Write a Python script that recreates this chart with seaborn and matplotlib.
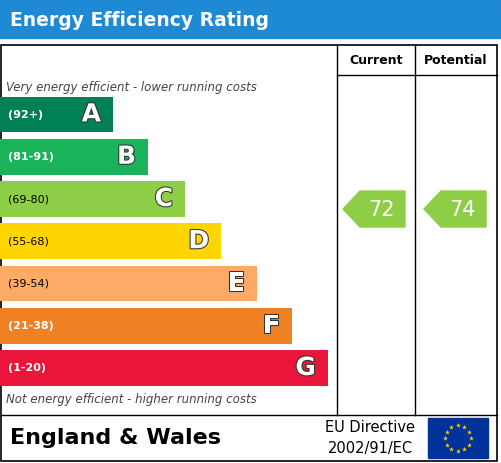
import matplotlib
matplotlib.use("Agg")
import matplotlib.pyplot as plt
import matplotlib.patheffects as pe
import seaborn as sns
import numpy as np
from matplotlib.patches import Rectangle, Polygon

# Data
bands = ["A", "B", "C", "D", "E", "F", "G"]
ranges = ["(92+)", "(81-91)", "(69-80)", "(55-68)", "(39-54)", "(21-38)", "(1-20)"]
bar_lengths = [113, 148, 185, 221, 257, 292, 328]
colors = ["#008054", "#19b459", "#8dce46", "#ffd500", "#fcaa65", "#ef8023", "#e9153b"]
current_score = 72
potential_score = 74
score_band = "C"

W, H = 502, 463
fig = plt.figure(figsize=(W / 100, H / 100), dpi=100)
ax = fig.add_axes([0, 0, 1, 1])
ax.set_xlim(0, W)
ax.set_ylim(H, 0)
ax.axis("off")

# header
ax.add_patch(Rectangle((0, 0), 500, 38, color="#1e8ad6"))
ax.text(10, 20, "Energy Efficiency Rating", color="white", fontsize=13.5,
        fontweight="bold", va="center")

# frame
lc = "black"
ax.add_patch(Rectangle((1, 45), 496, 416, fill=False, ec=lc, lw=1.2))
ax.plot([337, 337], [45, 415], color=lc, lw=1)
ax.plot([415, 415], [45, 415], color=lc, lw=1)
ax.plot([337, 497], [75, 75], color=lc, lw=1)
ax.plot([1, 497], [415, 415], color=lc, lw=1)
ax.text(376, 61, "Current", ha="center", va="center", fontsize=9, fontweight="bold")
ax.text(456, 61, "Potential", ha="center", va="center", fontsize=9, fontweight="bold")
ax.text(6, 88, "Very energy efficient - lower running costs", fontsize=8.5,
        style="italic", color="#444444", va="center")
ax.text(6, 400, "Not energy efficient - higher running costs", fontsize=8.5,
        style="italic", color="#444444", va="center")

# bars
top, pitch = 114.5, 42.25
bx = fig.add_axes([0, 1 - (top + 6.5 * pitch) / H, 337 / W, 7 * pitch / H])
sns.barplot(x=bar_lengths, y=bands, hue=bands, palette=colors, orient="h",
            width=0.85, saturation=1, ax=bx, legend=False)
bx.set_xlim(0, 337)
bx.axis("off")
for i, (b, r, L) in enumerate(zip(bands, ranges, bar_lengths)):
    tc = "black" if b in ("C", "D", "E") else "white"
    bx.text(8, i, r, va="center", fontsize=8, color=tc, fontweight="bold" if tc == "white" else "normal")
    bx.text(L - 12, i, b, va="center", ha="right", fontsize=18, color="white",
            fontweight="bold", path_effects=[pe.withStroke(linewidth=1.5, foreground="#333333")])

# score arrows
sc = colors[bands.index(score_band)]
yc = 209
for x0, val in [(343, current_score), (424, potential_score)]:
    ax.add_patch(Polygon([(x0, yc), (x0 + 17, yc - 18), (x0 + 62, yc - 18),
                          (x0 + 62, yc + 18), (x0 + 17, yc + 18)], color=sc))
    ax.text(x0 + 39, yc + 1, str(val), ha="center", va="center", fontsize=15, color="white")

# footer
ax.text(10, 438, "England & Wales", fontsize=16, fontweight="bold", va="center")
ax.text(370, 428, "EU Directive", fontsize=10.5, ha="center", va="center")
ax.text(370, 448, "2002/91/EC", fontsize=10.5, ha="center", va="center")
ax.add_patch(Rectangle((428, 418), 60, 40, color="#003399"))
ang = np.linspace(0, 2 * np.pi, 13)[:-1]
ax.scatter(458 + 13 * np.cos(ang), 438 + 13 * np.sin(ang), marker="*", s=14, color="#ffcc00", lw=0)

fig.savefig("out.png", dpi=100)
